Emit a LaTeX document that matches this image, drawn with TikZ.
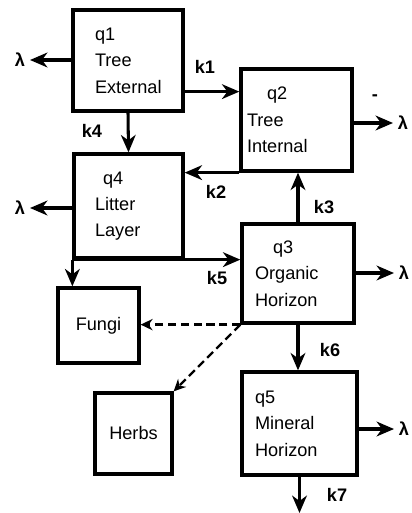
\documentclass[tikz,border=0pt]{standalone}
\usepackage{fontspec}
\setmainfont{Liberation Sans}
\usetikzlibrary{arrows.meta}

\begin{document}
\begin{tikzpicture}[>={Stealth[length=5.2mm,width=4.4mm,inset=1.6mm]},font=\fontsize{15.5}{22.5}\selectfont,
  box/.style={draw,line width=2.8pt,inner sep=0pt,align=left},
  flow/.style={->,line width=2.6pt},
  feed/.style={-{Stealth[length=3.6mm,width=3.4mm,inset=1.2mm]},line width=2pt,dash pattern=on 7pt off 4pt},
  rate/.style={inner sep=1pt,font=\fontsize{15.5}{18}\selectfont\bfseries},
  loss/.style={inner sep=4pt,font=\fontsize{15.5}{18}\selectfont\bfseries}]
\useasboundingbox (0,0) rectangle (12.36,-15.39);
% compartments
\node[box,minimum width=3.3cm,minimum height=3.03cm,text width=1.98cm] (q1) at (3.84,-1.815) {q1\\Tree\\External};
\node[box,minimum width=3.33cm,minimum height=3.06cm,text width=2.97cm] (q2) at (8.895,-3.6) {\hspace{0.6cm}q2\\Tree\\Internal};
\node[box,minimum width=3.27cm,minimum height=3.12cm,text width=2.01cm] (q4) at (3.855,-6.18) {\hspace{0.24cm}q4\\Litter\\Layer};
\node[box,minimum width=3.36cm,minimum height=2.97cm,text width=2.58cm] (q3) at (8.94,-8.205) {\hspace{0.54cm}q3\\Organic\\Horizon};
\node[box,minimum width=3.45cm,minimum height=3.09cm,text width=2.67cm] (q5) at (8.985,-12.705) {q5\\Mineral\\Horizon};
\node[box,minimum width=2.43cm,minimum height=2.25cm] (fungi) at (2.955,-9.765) {Fungi};
\node[box,minimum width=2.31cm,minimum height=2.43cm] (herbs) at (4.005,-13.005) {Herbs};
% losses
\node[loss] (l1) at (0.6,-1.8) {λ};
\node[loss] (l4) at (0.6,-6.24) {λ};
\node[loss] (l2) at (12.09,-3.69) {λ};
\node[loss] (l3) at (12.12,-8.19) {λ};
\node[loss] (l5) at (12.12,-12.87) {λ};
\node[rate] (bar) at (11.25,-2.94) {-};
\coordinate (sink) at (8.985,-15.39);
% transfers
\draw[flow] (q1.west |- l1) -- (l1);
\draw[flow] (q4.west |- l4) -- (l4);
\draw[flow] (q2.east |- l2) -- (l2);
\draw[flow] (q3.east |- l3) -- (l3);
\draw[flow] (q5.east |- l5) -- (l5);
\draw[flow] ([yshift=0.63cm]q1.south east) -- ([yshift=0.63cm]q1.south east -| q2.west);
\draw[flow] (q1.south) -- (q4.north);
\draw[flow] (q2.south west) -- (q2.south west -| q4.east);
\draw[flow] (q3.north) -- (q3.north |- q2.south);
\draw[flow] (q4.south west) -- (q4.south west -| q3.west);
\draw[flow] (q4.south west) -- (q4.south west |- fungi.north);
\draw[flow] (q3.south) -- (q3.south |- q5.north);
\draw[flow] (q5.south) -- (sink);
\draw[feed] (q3.south west) -- (q3.south west -| fungi.east);
\draw[feed] (q3.south west) -- (herbs.north east);
% rates
\node[rate] (k1) at (6.15,-2.01) {k1};
\node[rate] (k4) at (2.76,-3.93) {k4};
\node[rate] (k2) at (6.48,-5.76) {k2};
\node[rate] (k3) at (9.72,-6.21) {k3};
\node[rate] (k5) at (6.51,-8.34) {k5};
\node[rate] (k6) at (9.9,-10.5) {k6};
\node[rate] (k7) at (10.11,-14.85) {k7};
\end{tikzpicture}
\end{document}
